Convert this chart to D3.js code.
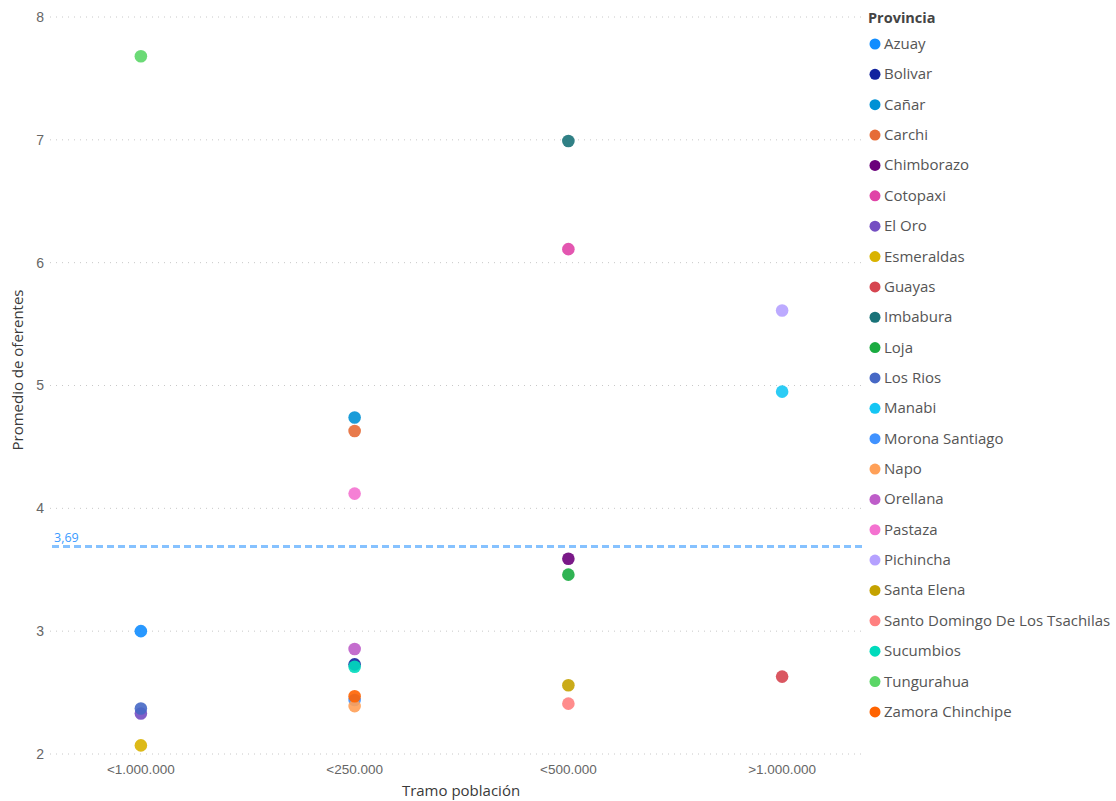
<!DOCTYPE html>
<html>
<head>
<meta charset="utf-8">
<script src="https://cdn.jsdelivr.net/npm/d3@7"></script>
<style>
  html, body { margin: 0; padding: 0; background: #fff; }
  svg { display: block; font-family: "Segoe UI", "Open Sans", "Noto Sans", sans-serif; }
</style>
</head>
<body>
<svg id="chart" width="1116" height="801"></svg>
<script>
const categories = ["<1.000.000", "<250.000", "<500.000", ">1.000.000"];
const provinces = ["Azuay", "Bolivar", "Cañar", "Carchi", "Chimborazo", "Cotopaxi", "El Oro", "Esmeraldas", "Guayas", "Imbabura", "Loja", "Los Rios", "Manabi", "Morona Santiago", "Napo", "Orellana", "Pastaza", "Pichincha", "Santa Elena", "Santo Domingo De Los Tsachilas", "Sucumbios", "Tungurahua", "Zamora Chinchipe"];
const tramo = ["<1.000.000", "<250.000", "<250.000", "<250.000", "<500.000", "<500.000", "<1.000.000", "<1.000.000", ">1.000.000", "<500.000", "<500.000", "<1.000.000", ">1.000.000", "<250.000", "<250.000", "<250.000", "<250.000", ">1.000.000", "<500.000", "<500.000", "<250.000", "<1.000.000", "<250.000"];
const promedio = [3.00, 2.73, 4.74, 4.63, 3.59, 6.11, 2.33, 2.07, 2.63, 6.99, 3.46, 2.37, 4.95, 2.44, 2.39, 2.855, 4.12, 5.61, 2.56, 2.41, 2.71, 7.68, 2.47];
const colors = ["#118DFF", "#12239E", "#0091D5", "#E66C37", "#6B007B", "#E044A7", "#744EC2", "#D9B300", "#D64550", "#197278", "#1AAB40", "#4668C5", "#15C6F4", "#4092FF", "#FFA058", "#BE5DC9", "#F472D0", "#B5A1FF", "#C4A200", "#FF8080", "#00DBBC", "#5BD667", "#FF6300"];
const yTicks = [2, 3, 4, 5, 6, 7, 8];

const svg = d3.select("#chart");
const x = d3.scaleBand().domain(categories).range([34, 889]);
const y = d3.scaleLinear().domain([2, 8]).range([754, 17]);
const gridX0 = 50, gridX1 = 862;

// grid lines
svg.append("g").selectAll("line").data(yTicks).join("line")
  .attr("x1", gridX0).attr("x2", gridX1)
  .attr("y1", d => y(d)).attr("y2", d => y(d))
  .attr("stroke", "#c8c8c8").attr("stroke-width", 1)
  .attr("stroke-dasharray", "1,5");

// y axis
const yAxis = svg.append("g").attr("transform", "translate(44,0)")
  .call(d3.axisLeft(y).tickValues(yTicks).tickSize(0).tickPadding(0).tickFormat(d3.format("d")));
yAxis.select(".domain").remove();
yAxis.selectAll("text").attr("fill", "#666").style("font-size", "14px").attr("font-family", null);

// x axis
const xAxis = svg.append("g").attr("transform", "translate(0,760)")
  .call(d3.axisBottom(x).tickSize(0).tickPadding(4));
xAxis.select(".domain").remove();
xAxis.selectAll("text").attr("fill", "#666").style("font-size", "13.5px").attr("font-family", null);

// axis titles
svg.append("text").attr("x", 461).attr("y", 796).attr("text-anchor", "middle")
  .attr("fill", "#3a3a3a").style("font-size", "15px").text("Tramo población");
svg.append("text").attr("transform", "translate(23,370) rotate(-90)").attr("text-anchor", "middle")
  .attr("fill", "#3a3a3a").style("font-size", "15px").text("Promedio de oferentes");

// average line
const avg = d3.mean(promedio);
svg.append("line").attr("x1", 52).attr("x2", 864)
  .attr("y1", y(avg)).attr("y2", y(avg))
  .attr("stroke", "#86c2ff").attr("stroke-width", 3).attr("stroke-dasharray", "7,4");
svg.append("text").attr("x", 54).attr("y", y(avg) - 5)
  .attr("fill", "#3a9bff").style("font-size", "12.5px")
  .text(d3.format(".2f")(avg).replace(".", ","));

// points
const pts = provinces.map((p, i) => ({ p, t: tramo[i], v: promedio[i], c: colors[i] }));
svg.append("g").selectAll("circle").data(pts).join("circle")
  .attr("cx", d => x(d.t) + x.bandwidth() / 2)
  .attr("cy", d => y(d.v))
  .attr("r", 6.3)
  .attr("fill", d => d.c).attr("fill-opacity", 0.9);

// legend
const lg = svg.append("g");
lg.append("text").attr("x", 868).attr("y", 23).attr("fill", "#444")
  .style("font-size", "14.5px").style("font-weight", "bold").text("Provincia");
const items = lg.selectAll("g.item").data(pts).join("g").attr("class", "item")
  .attr("transform", (d, i) => `translate(0,${44 + i * 30.36})`);
items.append("circle").attr("cx", 875).attr("cy", 0).attr("r", 5.5).attr("fill", d => d.c);
items.append("text").attr("x", 884).attr("y", 5).attr("fill", "#555")
  .style("font-size", "15px").text(d => d.p);
</script>
</body>
</html>
